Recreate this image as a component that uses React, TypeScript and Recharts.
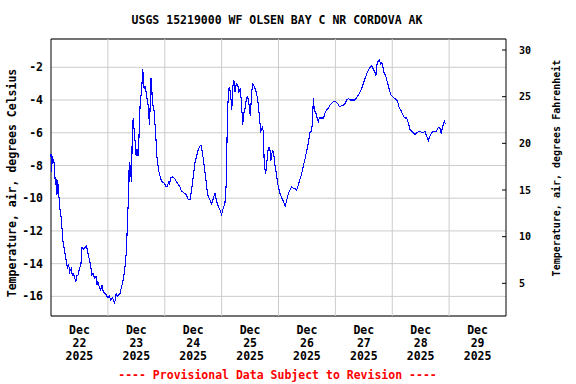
import {
  CartesianGrid,
  Line,
  LineChart,
  ReferenceArea,
  ReferenceLine,
  XAxis,
  YAxis,
} from 'recharts'

const TITLE = 'USGS 15219000 WF OLSEN BAY C NR CORDOVA AK'
const FOOTER = '---- Provisional Data Subject to Revision ----'
const LEFT_LABEL = 'Temperature, air, degrees Celsius'
const RIGHT_LABEL = 'Temperature, air, degrees Fahrenheit'

// hours since Dec 22 2025 00:00
const hours = [
  0.0, 0.2, 0.4, 0.7, 1.0, 1.5, 1.8, 2.2, 2.5, 2.8, 3.2, 3.7, 4.3, 5.1, 5.8, 6.5, 7.0, 7.4, 7.9, 8.5,
  9.0, 9.5, 10.0, 10.5, 11.0, 11.4, 12.0, 12.6, 13.1, 13.8, 14.5, 15.0, 15.3, 15.8, 16.7, 17.3, 17.8,
  18.4, 19.0, 19.4, 19.8, 20.3, 21.0, 21.5, 22.0, 22.6, 23.3, 24.0, 24.6, 25.2, 26.0, 26.5, 26.9, 27.5,
  28.0, 28.6, 29.2, 29.6, 30.0, 30.6, 31.4, 31.9, 32.3, 32.8, 33.0, 33.2, 33.6, 34.0, 34.3, 34.7, 35.1,
  35.6, 35.9, 36.3, 36.7, 37.0, 37.3, 37.6, 38.0, 38.3, 38.7, 39.0, 39.3, 39.7, 40.1, 40.6, 41.0, 41.3,
  41.6, 41.9, 42.1, 42.4, 42.7, 43.0, 43.4, 44.2, 44.7, 45.4, 46.1, 46.5, 47.0, 48.0, 48.4, 49.1, 49.6,
  50.0, 50.6, 51.3, 52.2, 52.8, 53.5, 54.4, 55.0, 56.3, 57.2, 57.9, 58.7, 59.4, 60.1, 60.8, 61.5, 62.2,
  62.9, 63.3, 63.9, 64.7, 65.3, 66.1, 67.1, 67.8, 68.5, 69.2, 69.9, 70.6, 71.3, 72.0, 72.7, 73.4, 74.0,
  74.4, 74.8, 75.2, 75.7, 76.3, 76.6, 77.2, 77.6, 78.2, 78.8, 79.3, 79.9, 80.5, 80.9, 81.4, 81.9, 82.5,
  83.0, 83.6, 84.1, 84.7, 85.2, 85.8, 86.4, 87.0, 87.5, 88.0, 88.5, 89.2, 89.6, 90.0, 90.6, 91.1, 91.7,
  92.3, 92.8, 93.4, 93.9, 94.5, 95.2, 95.9, 96.6, 97.4, 98.1, 98.8, 99.5, 100.2, 100.9, 101.6, 102.3,
  103.0, 103.7, 104.4, 105.1, 105.8, 106.5, 107.2, 107.9, 108.6, 109.3, 110.0, 110.4, 110.7, 111.1,
  111.8, 112.3, 112.8, 113.2, 114.2, 115.0, 115.8, 116.4, 117.0, 117.8, 118.5, 119.2, 120.0, 120.9,
  121.7, 122.7, 123.4, 124.1, 124.8, 125.5, 126.2, 127.3, 128.3, 129.0, 129.7, 130.4, 131.1, 131.8,
  132.5, 133.2, 133.9, 134.6, 135.3, 136.0, 136.7, 137.1, 137.4, 138.1, 138.6, 139.1, 139.6, 140.1,
  140.5, 141.2, 141.7, 142.3, 142.8, 143.5, 144.2, 144.9, 145.6, 146.3, 147.0, 147.6, 148.1, 148.8,
  149.4, 150.1, 150.8, 151.5, 152.2, 152.9, 153.6, 154.3, 155.0, 155.7, 156.4, 157.1, 157.8, 158.5,
  159.2, 159.9, 160.7, 161.3, 162.0, 162.7, 163.4, 164.1, 164.7, 165.1, 165.6, 166.0, 166.4,
]

const tempC = [
  -7.3, -8.4, -7.4, -7.9, -7.6, -8.0, -9.2, -8.8, -9.8, -8.9, -9.6, -10.6, -11.2, -12.7, -13.3, -13.9,
  -14.3, -14.0, -14.5, -14.3, -14.7, -14.6, -14.9, -15.1, -14.7, -14.7, -14.3, -14.1, -13.0, -13.1,
  -13.0, -12.9, -13.2, -13.5, -14.1, -14.7, -14.6, -14.9, -14.8, -15.3, -15.1, -15.4, -15.6, -15.3,
  -15.7, -15.8, -15.9, -16.1, -16.0, -16.2, -16.1, -16.3, -16.4, -15.8, -16.0, -15.9, -15.8, -15.5,
  -15.3, -14.9, -14.0, -13.0, -11.3, -9.6, -7.8, -9.0, -8.0, -9.0, -5.9, -5.1, -5.9, -6.7, -7.4, -7.0,
  -7.4, -6.8, -5.5, -4.3, -3.7, -3.3, -2.1, -2.7, -3.3, -3.2, -3.5, -4.0, -4.3, -5.0, -5.5, -4.0, -2.7,
  -2.7, -3.9, -4.3, -4.5, -6.1, -7.5, -8.3, -8.7, -8.9, -9.0, -9.1, -9.3, -9.3, -9.0, -9.1, -8.75,
  -8.7, -8.8, -8.95, -9.1, -9.3, -9.55, -9.7, -9.8, -10.1, -10.1, -9.4, -8.6, -7.8, -7.4, -7.0, -6.8,
  -6.75, -7.2, -8.1, -8.8, -9.8, -10.1, -10.35, -10.0, -9.7, -10.2, -10.5, -10.7, -11.0, -10.6, -10.3,
  -9.0, -5.3, -3.7, -3.2, -3.5, -4.6, -3.3, -2.8, -3.5, -3.0, -3.1, -3.5, -3.3, -4.5, -5.5, -4.8, -4.5,
  -3.9, -3.8, -4.3, -5.0, -3.5, -3.0, -3.2, -3.4, -3.8, -4.3, -5.1, -5.9, -5.7, -5.9, -8.0, -8.5, -7.8,
  -6.9, -6.9, -7.7, -7.1, -7.2, -8.0, -8.6, -9.3, -9.7, -10.0, -10.2, -10.5, -10.1, -9.7, -9.5, -9.3,
  -9.4, -9.4, -9.5, -9.2, -8.8, -8.5, -8.0, -7.6, -7.1, -6.6, -6.0, -5.9, -5.1, -3.9, -4.6, -4.8, -5.1,
  -5.3, -5.1, -5.1, -5.1, -4.7, -4.6, -4.5, -4.3, -4.2, -4.1, -4.1, -4.2, -4.4, -4.35, -4.3, -4.2, -4.0,
  -3.9, -4.0, -4.0, -4.0, -3.85, -3.7, -3.5, -3.3, -3.0, -2.7, -2.4, -2.2, -2.0, -1.9, -2.1, -2.3, -2.5,
  -1.9, -1.6, -1.55, -1.8, -1.7, -2.0, -2.3, -2.5, -2.8, -3.1, -3.4, -3.7, -3.8, -3.9, -3.95, -4.1,
  -4.5, -4.6, -4.8, -5.0, -5.1, -5.1, -5.4, -5.8, -5.9, -6.0, -6.1, -6.0, -5.95, -5.9, -6.0, -6.0, -5.9,
  -6.2, -6.5, -6.2, -6.0, -5.9, -5.9, -5.9, -5.7, -5.7, -6.1, -5.7, -5.5, -5.3, -5.45,
]

const celsiusTicks = [-16, -14, -12, -10, -8, -6, -4, -2]
const fahrenheitTicks = [5, 10, 15, 20, 25, 30]
const dayLabels = ['22', '23', '24', '25', '26', '27', '28', '29']
const MONTH = 'Dec'
const YEAR = '2025'

const C_DOMAIN: [number, number] = [-17.2, -0.27]
const F_DOMAIN: [number, number] = [1.5, 31.18]
const X_DOMAIN: [number, number] = [0, 192]

const FONT = '"DejaVu Sans Mono", "Liberation Mono", monospace'
const GRID = '#cccccc'

const chartData = hours.map((h, i) => ({ h, c: tempC[i] }))
const labelTicks = dayLabels.map((_, i) => i * 24 + 12)
const midnights = dayLabels.slice(1).map((_, i) => (i + 1) * 24)

function DateTick({ x, y, payload }: any) {
  const idx = Math.round((payload.value - 12) / 24)
  return (
    <text x={x} y={y} textAnchor="middle" fontFamily={FONT} fontSize={11.5} fontWeight="bold" fill="#000">
      <tspan x={x} dy={18}>{MONTH}</tspan>
      <tspan x={x} dy={13}>{dayLabels[idx]}</tspan>
      <tspan x={x} dy={13}>{YEAR}</tspan>
    </text>
  )
}

export default function App() {
  return (
    <div style={{ position: 'absolute', left: 0, top: 0, width: 576, height: 384, background: '#fff' }}>
      <LineChart
        width={576}
        height={384}
        data={chartData}
        margin={{ top: 39, right: 0, bottom: 0, left: 0 }}
      >
        <CartesianGrid yAxisId="c" vertical={false} stroke={GRID} />
        <XAxis
          dataKey="h"
          type="number"
          domain={X_DOMAIN}
          ticks={labelTicks}
          height={68}
          axisLine={false}
          tickLine={false}
          tickSize={0}
          tickMargin={0}
          tick={<DateTick />}
          interval={0}
        />
        <YAxis
          yAxisId="c"
          type="number"
          domain={C_DOMAIN}
          allowDataOverflow
          ticks={celsiusTicks}
          width={51}
          axisLine={false}
          tickLine={false}
          tickSize={0}
          tickMargin={8}
          tick={{ fontFamily: FONT, fontSize: 11.5, fontWeight: 'bold', fill: '#000' }}
          label={({ viewBox }: any) => (
            <text
              x={viewBox.x + 16}
              y={183}
              transform={`rotate(-90 ${viewBox.x + 16} 183)`}
              textAnchor="middle"
              fontFamily={FONT}
              fontSize={11.5}
              fontWeight="bold"
              fill="#000"
            >
              {LEFT_LABEL}
            </text>
          )}
        />
        <YAxis
          yAxisId="f"
          orientation="right"
          type="number"
          domain={F_DOMAIN}
          allowDataOverflow
          ticks={fahrenheitTicks}
          interval={0}
          width={70}
          axisLine={false}
          tickLine={{ stroke: '#000' }}
          tickSize={-4}
          tickMargin={17}
          tick={{ fontFamily: FONT, fontSize: 10, fontWeight: 'bold', fill: '#000' }}
          label={() => (
            <text
              x={560}
              y={168}
              transform={`rotate(-90 560 168)`}
              textAnchor="middle"
              fontFamily={FONT}
              fontSize={10}
              fontWeight="bold"
              fill="#000"
            >
              {RIGHT_LABEL}
            </text>
          )}
        />
        {midnights.map((m) => (
          <ReferenceLine key={m} yAxisId="c" x={m} stroke={GRID} />
        ))}
        <Line
          yAxisId="c"
          dataKey="c"
          type="linear"
          stroke="#0000ff"
          strokeWidth={1.1}
          shapeRendering="crispEdges"
          dot={false}
          isAnimationActive={false}
        />
        <ReferenceArea
          yAxisId="c"
          x1={X_DOMAIN[0]}
          x2={X_DOMAIN[1]}
          y1={C_DOMAIN[0]}
          y2={C_DOMAIN[1]}
          fill="none"
          fillOpacity={0}
          stroke="#000"
          strokeWidth={1}
        />
      </LineChart>
      <svg width={576} height={384} style={{ position: 'absolute', left: 0, top: 0, pointerEvents: 'none' }}>
        <text x={277} y={24} textAnchor="middle" fontFamily={FONT} fontSize={11.5} fontWeight="bold" fill="#000">
          {TITLE}
        </text>
        <text x={277.5} y={379} textAnchor="middle" fontFamily={FONT} fontSize={11.5} fontWeight="bold" fill="#ff0000">
          {FOOTER}
        </text>
      </svg>
    </div>
  )
}
